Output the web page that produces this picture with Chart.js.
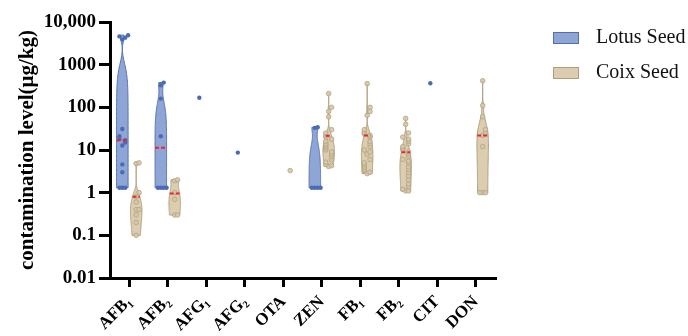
<!DOCTYPE html>
<html>
<head>
<meta charset="utf-8">
<script src="https://cdn.jsdelivr.net/npm/chart.js@4"></script>
<style>
  body { margin: 0; background: #fff; }
</style>
</head>
<body>
<canvas id="chart" width="688" height="336"></canvas>
<script>
const categories = ['AFB₁', 'AFB₂', 'AFG₁', 'AFG₂', 'OTA', 'ZEN', 'FB₁', 'FB₂', 'CIT', 'DON'];

// contamination levels (µg/kg), one list per toxin
const lotusValues = [
  [1.3, 1.3, 1.3, 3.0, 4.6, 12.8, 15, 17, 18, 21, 31, 3900, 4300, 4600, 4900],
  [1.3, 1.3, 1.3, 1.3, 21, 160, 330, 380],
  [168],
  [8.7],
  [],
  [1.3, 1.3, 1.3, 1.3, 33, 34],
  [],
  [],
  [366],
  []
];
const coixValues = [
  [0.1, 0.2, 0.3, 0.4, 0.4, 0.6, 0.8, 1.0, 4.8, 5.0],
  [0.3, 0.3, 0.7, 1.0, 1.9, 2.0],
  [],
  [],
  [3.3],
  [4.1, 4.3, 4.6, 5.2, 6, 7, 8, 9, 10, 11, 12, 13, 14, 16, 18, 20, 22, 25, 30, 60, 80, 100, 210],
  [2.8, 3.0, 3.3, 3.6, 4, 4.5, 5, 6, 8, 9, 10, 12, 14, 16, 20, 22, 24, 26, 30, 65, 80, 100, 360],
  [1.1, 1.1, 1.2, 1.4, 1.6, 2, 2.5, 3, 3.5, 4, 5, 5.5, 6, 7, 8, 9, 10, 11, 12, 14, 16, 18, 20, 25, 40, 55],
  [],
  [1.0, 1.0, 1.0, 12, 22, 25, 30, 60, 110, 420]
];
const lotusMedians = [17, 11.3, null, null, null, null, null, null, null, null];
const coixMedians = [0.8, 0.95, null, null, null, 21.5, 22, 8.8, null, 22];

const yTickValues = [0.01, 0.1, 1, 10, 100, 1000, 10000];
const yTickLabels = ['0.01', '0.1', '1', '10', '100', '1000', '10,000'];
const yTitle = 'contamination level(μg/kg)';
const seriesNames = ['Lotus Seed', 'Coix Seed'];

const serif = '"Liberation Serif", "Times New Roman", serif';
const groups = [
  { values: lotusValues, medians: lotusMedians, shift: -0.18, fill: '#8ea6d6', stroke: '#556fae', dot: '#4a6cb5', dotBorder: '#4a6cb5' },
  { values: coixValues, medians: coixMedians, shift: 0.18, fill: '#dccdb1', stroke: '#ae9d7f', dot: 'rgba(214,200,170,0.9)', dotBorder: '#b3a27f' }
];

// deterministic spread for dots that sit at nearly the same height
function dotPoints(values, shift) {
  const pattern = [0, 1, -1, 2, -2, 3, -3];
  const pts = [];
  values.forEach((vals, i) => {
    vals.forEach((v, k) => {
      let n = 0;
      for (let j = 0; j < k; j++) {
        if (Math.abs(Math.log10(vals[j]) - Math.log10(v)) < 0.1) n++;
      }
      pts.push({ x: i + shift + pattern[n % 7] * 0.075, y: v });
    });
  });
  return pts;
}

function bandwidth(vals) {
  const n = vals.length;
  const s = [...vals].sort((a, b) => a - b);
  const mean = s.reduce((a, b) => a + b, 0) / n;
  const sd = Math.sqrt(s.reduce((a, b) => a + (b - mean) ** 2, 0) / (n - 1));
  const q = p => {
    const pos = (n - 1) * p, lo = Math.floor(pos), hi = Math.ceil(pos);
    return s[lo] + (s[hi] - s[lo]) * (pos - lo);
  };
  const iqr = (q(0.75) - q(0.25)) / 1.34;
  const spread = iqr > 0 ? Math.min(sd, iqr) : sd;
  return 0.9 * spread * Math.pow(n, -0.2);
}

function density(vals, h, v) {
  return vals.reduce((a, x) => a + Math.exp(-0.5 * ((v - x) / h) ** 2), 0);
}

const violinPlugin = {
  id: 'violins',
  beforeDatasetsDraw(chart) {
    const { ctx, scales: { x, y } } = chart;
    const halfMax = 0.15 * (x.getPixelForValue(1) - x.getPixelForValue(0));
    ctx.save();
    groups.forEach(g => {
      g.values.forEach((vals, i) => {
        if (vals.length < 2) return;
        const h = bandwidth(vals);
        const lo = Math.log10(Math.min(...vals)), hi = Math.log10(Math.max(...vals));
        const steps = 120;
        const prof = [];
        for (let s = 0; s <= steps; s++) {
          const v = Math.pow(10, lo + (hi - lo) * s / steps);
          prof.push({ v, d: density(vals, h, v) });
        }
        const dMax = Math.max(...prof.map(p => p.d));
        const cx = x.getPixelForValue(i + g.shift);
        ctx.beginPath();
        prof.forEach((p, k) => {
          const px = cx + halfMax * p.d / dMax, py = y.getPixelForValue(p.v);
          k ? ctx.lineTo(px, py) : ctx.moveTo(px, py);
        });
        for (let k = prof.length - 1; k >= 0; k--) {
          ctx.lineTo(cx - halfMax * prof[k].d / dMax, y.getPixelForValue(prof[k].v));
        }
        ctx.closePath();
        ctx.fillStyle = g.fill;
        ctx.fill();
        ctx.lineWidth = 1;
        ctx.strokeStyle = g.stroke;
        ctx.stroke();
        g._w = g._w || [];
        g._w[i] = m => halfMax * density(vals, h, m) / dMax;
      });
    });
    ctx.restore();
  },
  afterDatasetsDraw(chart) {
    const { ctx, scales: { x, y } } = chart;
    ctx.save();
    ctx.strokeStyle = '#e8262d';
    ctx.lineWidth = 2;
    ctx.setLineDash([4, 2]);
    groups.forEach(g => {
      g.medians.forEach((m, i) => {
        if (m == null || !g._w || !g._w[i]) return;
        const cx = x.getPixelForValue(i + g.shift), py = y.getPixelForValue(m);
        const w = g._w[i](m);
        ctx.beginPath();
        ctx.moveTo(cx - w, py);
        ctx.lineTo(cx + w, py);
        ctx.stroke();
      });
    });
    ctx.restore();
  }
};

const legendPlugin = {
  id: 'sideLegend',
  afterDraw(chart) {
    const ctx = chart.ctx;
    ctx.save();
    ctx.font = '20px ' + serif;
    ctx.textBaseline = 'middle';
    seriesNames.forEach((name, k) => {
      const yy = 38 + k * 35;
      ctx.fillStyle = groups[k].fill;
      ctx.fillRect(553, yy - 6, 26, 12);
      ctx.strokeStyle = groups[k].stroke;
      ctx.lineWidth = 1;
      ctx.strokeRect(553.5, yy - 5.5, 25, 11);
      ctx.fillStyle = '#111';
      ctx.fillText(name, 596, yy);
    });
    ctx.restore();
  }
};

new Chart(document.getElementById('chart'), {
  type: 'scatter',
  data: {
    datasets: groups.map((g, k) => ({
      label: seriesNames[k],
      data: dotPoints(g.values, g.shift),
      pointRadius: k ? 2.3 : 2.2,
      pointBackgroundColor: g.dot,
      pointBorderColor: g.dotBorder,
      pointBorderWidth: k ? 0.8 : 0
    }))
  },
  options: {
    responsive: false,
    devicePixelRatio: 1,
    animation: false,
    layout: { padding: { left: 0, top: 22, right: 193, bottom: 0 } },
    plugins: { legend: { display: false }, tooltip: { enabled: false } },
    scales: {
      x: {
        type: 'linear',
        min: -0.5,
        max: 9.5,
        afterBuildTicks: s => { s.ticks = categories.map((c, i) => ({ value: i })); },
        afterFit: s => { s.height = 58; },
        ticks: {
          callback: v => categories[v],
          minRotation: 45,
          maxRotation: 45,
          autoSkip: false,
          padding: 5,
          color: '#000',
          font: { family: serif, size: 17, weight: 'bold' }
        },
        grid: { drawOnChartArea: false, tickLength: 9, lineWidth: 3, color: '#000' },
        border: { width: 3, color: '#000' }
      },
      y: {
        type: 'logarithmic',
        min: 0.01,
        max: 10000,
        afterBuildTicks: s => { s.ticks = yTickValues.map(v => ({ value: v })); },
        afterFit: s => { s.width = 110; },
        ticks: {
          callback: (v, i) => yTickLabels[i],
          padding: 3,
          color: '#000',
          font: { family: serif, size: 19, weight: 'bold' }
        },
        grid: { drawOnChartArea: false, tickLength: 11, lineWidth: 3, color: '#000' },
        border: { width: 3, color: '#000' },
        title: {
          display: true,
          text: yTitle,
          color: '#000',
          padding: { top: 15, bottom: 0 },
          font: { family: serif, size: 21, weight: 'bold' }
        }
      }
    }
  },
  plugins: [violinPlugin, legendPlugin]
});
</script>
</body>
</html>
